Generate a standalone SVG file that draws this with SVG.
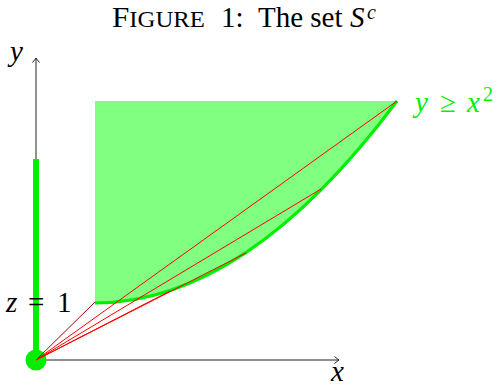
<svg xmlns="http://www.w3.org/2000/svg" width="501" height="387" viewBox="0 0 501 387">
<style>
.serif{font-family:"Liberation Serif","DejaVu Serif",serif}
.it{font-style:italic}
.axis{stroke:#222;stroke-width:1;fill:none}
.ray{stroke:#ff0000;stroke-width:1;fill:none}
.grn{fill:#00ee00}
.lbl{font-family:"Liberation Serif","DejaVu Serif",serif;font-size:29px}
</style>
<defs>
<marker id="arr" markerWidth="10" markerHeight="10" refX="0" refY="0" viewBox="-6 -5 8 10" orient="auto" markerUnits="userSpaceOnUse">
<path d="M-4.5,-3.5 Q-1.5,-1 0,0 Q-1.5,1 -4.5,3.5" fill="none" stroke="#222" stroke-width="1"/>
</marker>
</defs>
<rect width="501" height="387" fill="#fff"/>
<g id="title" class="serif" fill="#000">
<text x="112" y="27" font-size="29" textLength="93" lengthAdjust="spacingAndGlyphs">F<tspan font-size="23">IGURE</tspan></text>
<text x="221" y="27" font-size="29">1:</text>
<text x="258" y="27" font-size="29">The set</text>
<text x="350" y="27" font-size="29" class="it">S</text>
<text x="367" y="19" font-size="20" class="it">c</text>
</g>
<g id="axes">
<line class="axis" x1="36" y1="360" x2="36" y2="58" marker-end="url(#arr)"/>
<line class="axis" x1="36" y1="360" x2="339" y2="360" marker-end="url(#arr)"/>
<text x="10" y="61" class="lbl it">y</text>
<text x="331" y="381" class="lbl it">x</text>
</g>
<g id="z-line">
<rect class="grn" x="33" y="159" width="6" height="201"/>
<circle class="grn" cx="36" cy="360" r="10.5"/>
<text class="lbl it" x="6" y="312" fill="#000">z</text>
<text class="lbl" x="28" y="312" fill="#000">=</text>
<text class="lbl" x="57" y="312" fill="#000">1</text>
</g>
<g id="region">
<path d="M95,101 L397,101 Q246,303 95,303 Z" fill="#80ff80"/>
<path d="M95,303 Q246,303 397,101" fill="none" stroke="#00ee00" stroke-width="3"/>
<g fill="#00f000">
<text class="lbl it" x="415" y="112">y</text>
<text class="lbl" x="440" y="112">≥</text>
<text class="lbl it" x="467" y="112">x</text>
<text class="serif" x="483" y="101" font-size="20">2</text>
</g>
</g>
<g id="connectors">
<line x1="36" y1="360" x2="95" y2="302" stroke="#b00000" stroke-width="1"/>
<line class="ray" x1="36" y1="360" x2="397" y2="101"/>
<line class="ray" x1="36" y1="360" x2="321" y2="189"/>
<line class="ray" x1="36" y1="360" x2="246" y2="253"/>
<line class="ray" x1="36" y1="360" x2="170" y2="291"/>
</g>
</svg>
